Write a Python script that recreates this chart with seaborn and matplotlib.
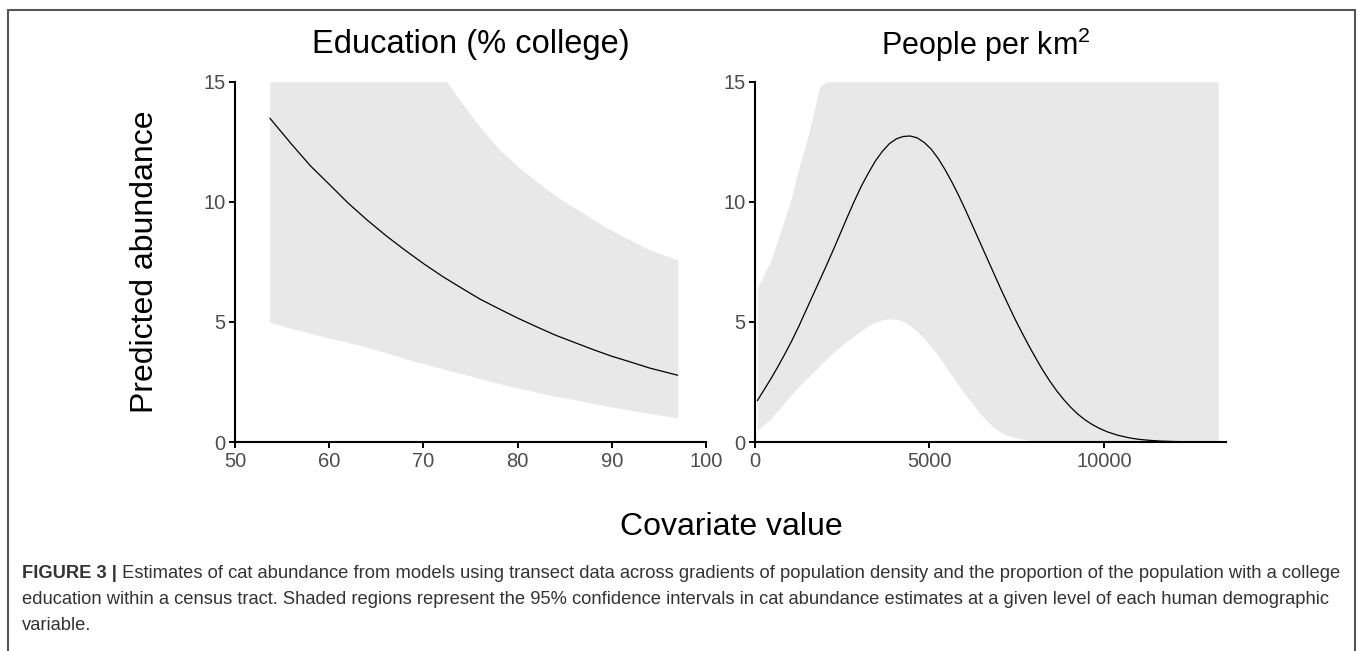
import numpy as np
import pandas as pd
import matplotlib
matplotlib.use("Agg")
import matplotlib.pyplot as plt
import seaborn as sns
from matplotlib.lines import Line2D

# ---------------- data ----------------
edu_x = [53.7, 56, 58, 60, 62, 64, 66, 68, 70, 72, 72.5, 74, 76, 78, 80, 82, 84, 86, 88, 90, 92, 94, 97]
edu_fit = [13.48, 12.4, 11.5, 10.73, 9.95, 9.25, 8.6, 8.0, 7.43, 6.9, 6.78, 6.42, 5.95, 5.55, 5.16,
           4.8, 4.45, 4.15, 3.85, 3.57, 3.33, 3.08, 2.78]
edu_lower = [4.98, 4.73, 4.52, 4.33, 4.15, 3.95, 3.72, 3.48, 3.26, 3.05, 3.0, 2.85, 2.64, 2.44, 2.25,
             2.08, 1.9, 1.77, 1.6, 1.46, 1.32, 1.19, 1.0]
edu_upper = [15, 15, 15, 15, 15, 15, 15, 15, 15, 15, 15, 14.15, 13.12, 12.2, 11.48,
             10.85, 10.26, 9.76, 9.27, 8.8, 8.4, 8.0, 7.58]

dens_x = [66, 250, 450, 650, 850, 1050, 1250, 1450, 1650, 1850, 2050, 2250, 2450, 2650, 2850,
          3050, 3250, 3450, 3650, 3850, 4050, 4250, 4450, 4650, 4850, 5050, 5250, 5450, 5650,
          5850, 6050, 6250, 6450, 6650, 6850, 7050, 7250, 7450, 7650, 7850, 8050, 8250, 8450,
          8650, 8850, 9050, 9250, 9450, 9650, 9850, 10100, 10400, 10700, 11000, 11300, 11600,
          12000, 12500, 13000, 13266]
dens_fit = [1.72, 2.15, 2.62, 3.12, 3.65, 4.2, 4.8, 5.44, 6.08, 6.72, 7.36, 8.02, 8.7, 9.38, 10.04,
            10.66, 11.2, 11.7, 12.1, 12.42, 12.62, 12.72, 12.74, 12.66, 12.47, 12.19, 11.8, 11.33, 10.8,
            10.22, 9.6, 8.95, 8.3, 7.65, 7.0, 6.35, 5.73, 5.12, 4.55, 4.0, 3.48, 2.98, 2.53,
            2.12, 1.76, 1.44, 1.16, 0.93, 0.74, 0.58, 0.42, 0.28, 0.18, 0.11, 0.07, 0.04,
            0.02, 0.01, 0.005, 0.003]
dens_lower = [0.5, 0.72, 0.97, 1.3, 1.65, 1.99, 2.31, 2.6, 2.88, 3.18, 3.47, 3.74, 3.98, 4.21, 4.43,
              4.64, 4.84, 4.99, 5.09, 5.13, 5.11, 5.02, 4.84, 4.6, 4.3, 3.97, 3.6, 3.17, 2.76,
              2.33, 1.93, 1.56, 1.18, 0.86, 0.6, 0.4, 0.28, 0.19, 0.12, 0.07, 0.04, 0.02, 0.01,
              0, 0, 0, 0, 0, 0, 0, 0, 0, 0, 0, 0, 0,
              0, 0, 0, 0]
dens_upper = [6.4, 6.95, 7.55, 8.4, 9.3, 10.2, 11.4, 12.35, 13.5, 14.8, 15, 15, 15, 15, 15,
              15, 15, 15, 15, 15, 15, 15, 15, 15, 15, 15, 15, 15, 15,
              15, 15, 15, 15, 15, 15, 15, 15, 15, 15, 15, 15, 15, 15,
              15, 15, 15, 15, 15, 15, 15, 15, 15, 15, 15, 15, 15,
              15, 15, 15, 15]

y_ticks = [0, 5, 10, 15]
edu_ticks = [50, 60, 70, 80, 90, 100]
dens_ticks = [0, 5000, 10000]

titles = ["Education (% college)", "People per km$^{2}$"]
y_label = "Predicted abundance"
x_label = "Covariate value"
caption_bold = "FIGURE 3 |"
caption_lines = [
    " Estimates of cat abundance from models using transect data across gradients of population density and the proportion of the population with a college",
    "education within a census tract. Shaded regions represent the 95% confidence intervals in cat abundance estimates at a given level of each human demographic",
    "variable.",
]

# ---------------- style ----------------
sns.set_style("ticks")
plt.rcParams['font.family'] = ['Liberation Sans', 'DejaVu Sans']
plt.rcParams['mathtext.fontset'] = 'custom'
plt.rcParams['mathtext.rm'] = 'Liberation Sans'
plt.rcParams['mathtext.it'] = 'Liberation Sans'

W, H = 1358, 651
fig = plt.figure(figsize=(W / 100, H / 100), dpi=100)

def fx(px):
    return px / W

def fy(py):
    return 1 - py / H

ax_bottom = fy(442)
ax_height = fy(81.7) - ax_bottom
ax1 = fig.add_axes([fx(235), ax_bottom, fx(471), ax_height])
ax2 = fig.add_axes([fx(755), ax_bottom, fx(471), ax_height])

shade = "#E8E8E8"
panels = [
    (ax1, edu_x, edu_fit, edu_lower, edu_upper, edu_ticks, (50, 100)),
    (ax2, dens_x, dens_fit, dens_lower, dens_upper, dens_ticks, (0, 13496)),
]
for ax, xs, fit, lo, hi, xt, xlim in panels:
    df = pd.DataFrame({"x": xs, "fit": fit, "lo": lo, "hi": hi})
    ax.fill_between(df["x"], df["lo"], df["hi"], color=shade, lw=0, zorder=1)
    sns.lineplot(data=df, x="x", y="fit", ax=ax, color="black", lw=0.9, zorder=3)
    ax.set_xlim(*xlim)
    ax.set_ylim(0, 15)
    ax.set_yticks(y_ticks)
    ax.set_xticks(xt)
    ax.set_xlabel("")
    ax.set_ylabel("")
    for s in ["top", "right"]:
        ax.spines[s].set_visible(False)
    for s in ["left", "bottom"]:
        ax.spines[s].set_linewidth(1.5)
        ax.spines[s].set_color("black")
        ax.spines[s].set_zorder(4)
    ax.tick_params(axis="both", direction="out", length=4, width=1.4, color="black",
                   labelsize=14.5, labelcolor="#4D4D4D", pad=3)
    ax.set_facecolor("none")

# titles
fig.text(fx(470.5), fy(45), titles[0], ha="center", va="center", fontsize=23.5, color="black")
fig.text(fx(986), fy(45), titles[1], ha="center", va="center", fontsize=22, color="black")
# axis labels
fig.text(fx(145), fy(262), y_label, rotation=90, ha="center", va="center", fontsize=23, color="black")
fig.text(fx(731), fy(527), x_label, ha="center", va="center", fontsize=23, color="black")

# frame lines around figure
frame_col = "#555555"
fig.add_artist(Line2D([fx(8), fx(1355)], [fy(10), fy(10)], color=frame_col, lw=1.5, transform=fig.transFigure))
fig.add_artist(Line2D([fx(8), fx(8)], [fy(10), fy(651)], color=frame_col, lw=1.5, transform=fig.transFigure))
fig.add_artist(Line2D([fx(1355), fx(1355)], [fy(10), fy(651)], color=frame_col, lw=1.5, transform=fig.transFigure))

# caption
cap_col = "#333333"
cap_size = 13.2
cap_y = [574, 600, 626]
t_bold = fig.text(fx(22), fy(cap_y[0]), caption_bold, ha="left", va="center", fontsize=cap_size,
                  fontweight="bold", color=cap_col)
fig.canvas.draw()
bb = t_bold.get_window_extent(renderer=fig.canvas.get_renderer())
fig.text(bb.x1 / W, fy(cap_y[0]), caption_lines[0], ha="left", va="center", fontsize=cap_size, color=cap_col)
fig.text(fx(22), fy(cap_y[1]), caption_lines[1], ha="left", va="center", fontsize=cap_size, color=cap_col)
fig.text(fx(22), fy(cap_y[2]), caption_lines[2], ha="left", va="center", fontsize=cap_size, color=cap_col)

fig.savefig("out.png", dpi=100)
